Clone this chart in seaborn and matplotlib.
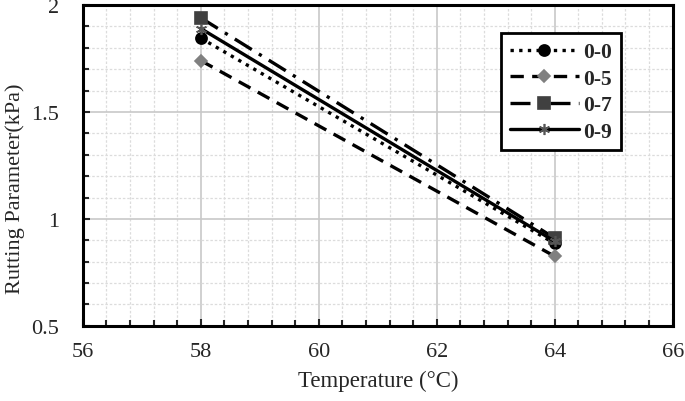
import pandas as pd
import matplotlib
matplotlib.use('Agg')
import matplotlib.pyplot as plt
import matplotlib.ticker as ticker
import seaborn as sns

# data
temperature = [58, 64]
series_names = ['0-0', '0-5', '0-7', '0-9']
rut_00 = [1.845, 0.885]
rut_05 = [1.74, 0.825]
rut_07 = [1.94, 0.91]
rut_09 = [1.89, 0.895]

df = pd.DataFrame({
    'Temperature': temperature * 4,
    'Rutting': rut_00 + rut_05 + rut_07 + rut_09,
    'Mix': [n for n in series_names for _ in temperature],
})

sns.set_style('white')
plt.rcParams['font.family'] = ['Liberation Serif', 'DejaVu Serif']

# line / marker styles per series
styles = {
    '0-0': dict(dashes=(1, 1.6), marker='o', mc='black', ms=8),
    '0-5': dict(dashes=(4, 2.5), marker='D', mc='#808080', ms=6),
    '0-7': dict(dashes=(6, 2.5, 1, 2.5), marker='s', mc='#404040', ms=8),
    '0-9': dict(dashes=(), marker=(6, 2, 0), mc='#555555', ms=8),
}

fig = plt.figure(figsize=(6.85, 4.02), dpi=100)
ax = fig.add_axes([0.121, 0.187, 0.861, 0.798])

for name in series_names:
    st = styles[name]
    sub = df[df['Mix'] == name]
    sns.lineplot(data=sub, x='Temperature', y='Rutting', ax=ax,
                 color='black', linewidth=2.4, label=name,
                 marker=st['marker'], markersize=st['ms'],
                 markerfacecolor=st['mc'], markeredgecolor=st['mc'],
                 markeredgewidth=1.2)
    l = ax.get_lines()[-1]
    if st['dashes']:
        l.set_dashes(st['dashes'])

ax.set_xlim(56, 66)
ax.set_ylim(0.5, 2)
ax.xaxis.set_major_locator(ticker.MultipleLocator(2))
ax.xaxis.set_minor_locator(ticker.MultipleLocator(0.4))
ax.yaxis.set_major_locator(ticker.MultipleLocator(0.5))
ax.yaxis.set_minor_locator(ticker.MultipleLocator(0.1))
ax.yaxis.set_major_formatter(ticker.FuncFormatter(lambda v, p: f'{v:g}'))

ax.grid(which='major', color='#c8c8c8', linewidth=1.2, linestyle='-')
ax.grid(which='minor', color='#dcdcdc', linewidth=0.9, linestyle=(0, (2, 1.5)))
ax.set_axisbelow(True)

for s in ax.spines.values():
    s.set_color('black')
    s.set_linewidth(2.2)

ax.tick_params(which='major', direction='in', length=5, width=1.5,
               labelsize=16, left=True, bottom=True)
ax.tick_params(axis='y', which='major', pad=17)
ax.tick_params(axis='x', which='major', pad=12)
ax.tick_params(which='minor', direction='in', length=4, width=1.5,
               left=True, bottom=True)

ax.set_xlabel('Temperature (°C)', fontsize=16.5, labelpad=6)
ax.set_ylabel('Rutting Parameter(kPa)', fontsize=16)
ax.yaxis.set_label_coords(-0.098, 0.43)

leg = ax.legend(loc='upper right', bbox_to_anchor=(0.93, 0.945),
                prop={'weight': 'bold', 'size': 15.5}, handlelength=3.2,
                frameon=True, fancybox=False, borderpad=0.4,
                labelspacing=0.3, handletextpad=0.2)
leg.get_frame().set_edgecolor('black')
leg.get_frame().set_linewidth(2)
leg.get_frame().set_alpha(1)

fig.savefig('out.png', dpi=100)
